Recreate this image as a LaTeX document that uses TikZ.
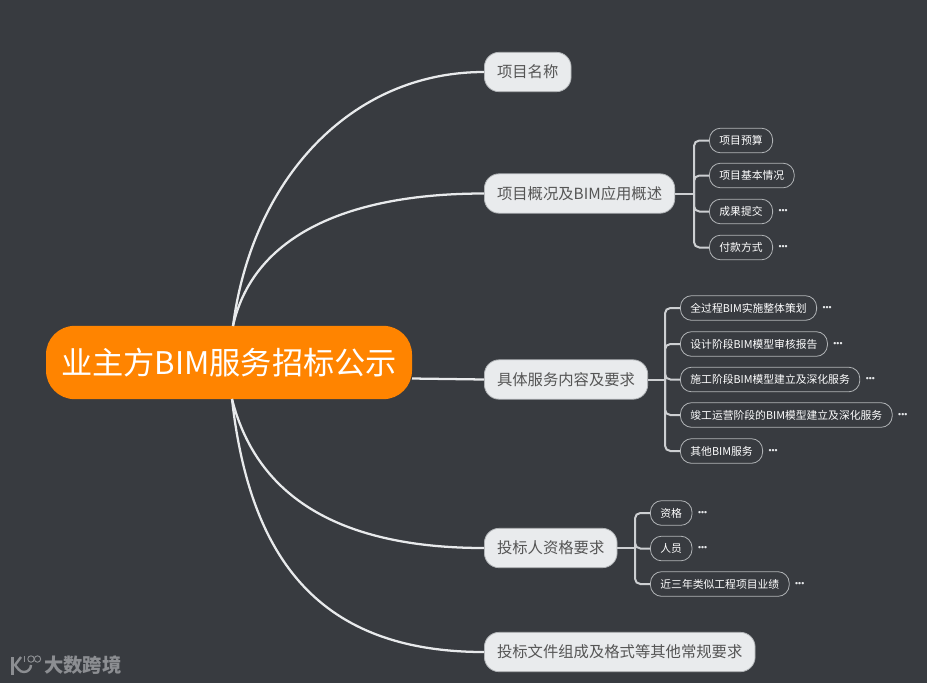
\documentclass[tikz,border=0pt]{standalone}
\usepackage{xcolor}
\usepackage{fontspec}
\setmainfont{Noto Sans CJK SC}
\newfontfamily\dotfont{Liberation Sans}
\usetikzlibrary{positioning}
\definecolor{mybg}{RGB}{56,59,64}
\definecolor{myorange}{RGB}{255,132,0}
\definecolor{mylight}{RGB}{233,235,237}
\definecolor{myline}{RGB}{232,234,236}
\definecolor{myedge}{RGB}{176,179,182}
\definecolor{mybranch}{RGB}{205,207,210}
\definecolor{mytext}{RGB}{85,85,85}
\definecolor{mymark}{RGB}{140,142,146}
\tikzset{
  rootnode/.style={rectangle, fill=myorange, text=white, minimum width=274.5pt,
    minimum height=55pt, inner sep=0pt, rounded corners=21.5pt,
    font=\fontsize{23.4}{26}\selectfont},
  topicnode/.style={rectangle, anchor=west, draw=myedge, fill=mylight, text=mytext,
    minimum height=29.5pt, inner xsep=9.5pt, inner ysep=0pt, rounded corners=11pt,
    line width=0.6pt, font=\fontsize{11.5}{13}\selectfont},
  subnode/.style={rectangle, anchor=west, draw=myedge, fill=mybg, text=white,
    minimum height=18.5pt, inner xsep=7.5pt, inner ysep=0pt, rounded corners=8.5pt,
    line width=0.6pt, font=\fontsize{8.1}{10}\selectfont},
  morenode/.style={text=myline, inner sep=0pt, font=\dotfont\fontsize{6.5}{7}\selectfont},
  bigcurve/.style={draw=myline, line width=1.7pt},
  branch/.style={draw=mybranch, line width=1.5pt, rounded corners=4pt},
  marktext/.style={text=mymark, inner sep=0pt, anchor=west, font=\bfseries\fontsize{14.5}{16}\selectfont},
  markline/.style={draw=mymark, line width=1.8pt},
  markthin/.style={draw=mymark, line width=0.7pt}
}
\begin{document}
\begin{tikzpicture}[x=0.75pt,y=-0.75pt]
  \fill[mybg] (0,0) rectangle (927,683);
  \useasboundingbox (0,0) rectangle (927,683);

  % centre
  \node[rootnode] (root) at (229,362.5) {\raisebox{-1.5pt}{业主方BIM服务招标公示}};
  \coordinate (rootup) at (233,326);
  \coordinate (rootdown) at (232,399);
  \coordinate (rootright) at (412,378.5);

  % first level
  \node[topicnode] (mingcheng) at (484,72) {\raisebox{-0.5pt}{项目名称}};
  \node[topicnode] (gaikuang) at (484,193.5) {\raisebox{-0.5pt}{项目概况及BIM应用概述}};
  \node[topicnode] (neirong) at (484,379.5) {\raisebox{-0.5pt}{具体服务内容及要求}};
  \node[topicnode] (zige) at (484,548) {\raisebox{-0.5pt}{投标人资格要求}};
  \node[topicnode] (wenjian) at (484,652) {\raisebox{-0.5pt}{投标文件组成及格式等其他常规要求}};

  \draw[bigcurve] (rootup) .. controls (252,180) and (350,72) .. (mingcheng.west);
  \draw[bigcurve] (rootup) .. controls (252,240) and (340,193.5) .. (gaikuang.west);
  \draw[bigcurve] (rootright) -- (neirong.west);
  \draw[bigcurve] (rootdown) .. controls (255,490) and (330,548) .. (zige.west);
  \draw[bigcurve] (rootdown) .. controls (250,560) and (320,652) .. (wenjian.west);

  % second level
  \node[subnode] (yusuan) at (709,140.5) {项目预算};
  \node[subnode] (qingkuang) at (709,175.5) {项目基本情况};
  \node[subnode] (chengguo) at (709,211.5) {成果提交};
  \node[subnode] (fukuan) at (709,247.5) {付款方式};

  \node[subnode] (cehua) at (680,308) {全过程BIM实施整体策划};
  \node[subnode] (shenhe) at (680,344) {设计阶段BIM模型审核报告};
  \node[subnode] (shigong) at (680,379.5) {施工阶段BIM模型建立及深化服务};
  \node[subnode] (jungong) at (680,415) {竣工运营阶段的BIM模型建立及深化服务};
  \node[subnode] (qita) at (680,451) {其他BIM服务};

  \node[subnode] (zizhi) at (650,513) {资格};
  \node[subnode] (renyuan) at (650,548.5) {人员};
  \node[subnode] (yeji) at (650,584) {近三年类似工程项目业绩};

  % branches
  \coordinate (busa) at (694,193.5);
  \coordinate (busb) at (665,379.5);
  \coordinate (busc) at (635,548);
  \draw[branch] (gaikuang.east) -- (busa);
  \draw[branch] (neirong.east) -- (busb);
  \draw[branch] (zige.east) -- (busc);
  \foreach \n in {yusuan,qingkuang,chengguo,fukuan}
    \draw[branch] (busa) |- (\n.west);
  \foreach \n in {cehua,shenhe,shigong,jungong,qita}
    \draw[branch] (busb) |- (\n.west);
  \foreach \n in {zizhi,renyuan,yeji}
    \draw[branch] (busc) |- (\n.west);

  % folded marks
  \foreach \n in {chengguo,fukuan,cehua,shenhe,shigong,jungong,qita,zizhi,renyuan,yeji}
    \node[morenode, right=4pt of \n] (\n more) {•••};

  % watermark
  \node[marktext] (marklabel) at (44,665.5) {大数跨境};
  \draw[markline] (12.5,657) -- (12.5,675);
  \draw[markline] (21,657) -- (15,665) -- (19,670);
  \draw[markline] (31,665) arc[start angle=0, end angle=140, radius=7];
  \draw[markthin] (24,656) -- (24,662);
  \draw[markthin] (31,659) circle[radius=3.2];
  \draw[markthin] (37.5,659) circle[radius=3.2];
\end{tikzpicture}
\end{document}
